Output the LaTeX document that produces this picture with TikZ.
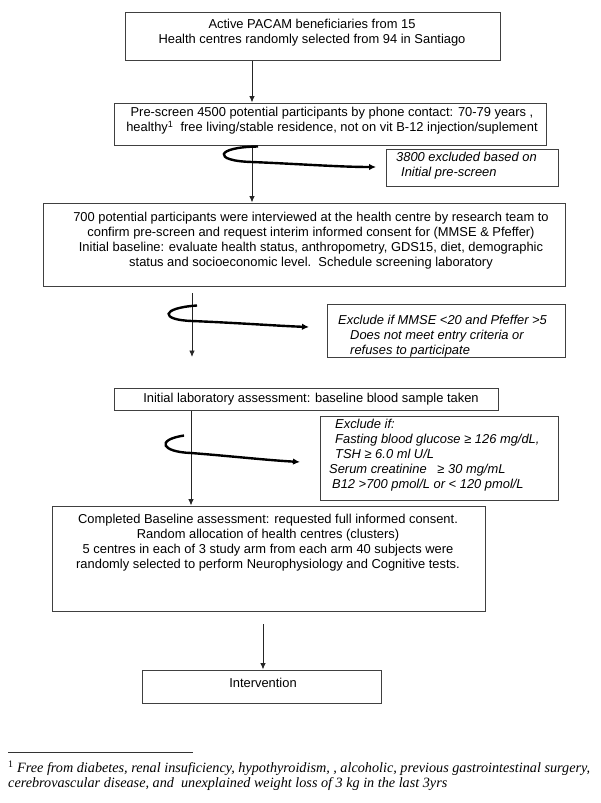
\documentclass[tikz,border=0pt]{standalone}
\usepackage{fontspec}
\setmainfont{Liberation Sans}
\newfontfamily\fnserif{Liberation Serif}
\usetikzlibrary{arrows.meta}
\begin{document}
\begin{tikzpicture}[x=1pt,y=-1pt,
  boxstyle/.style={draw=black!75,line width=1pt,inner sep=0pt,minimum width=#1},
  txt/.style={inner sep=0pt,align=center,anchor=base,font=\fontsize{12.9}{15}\selectfont},
  ltxt/.style={inner sep=0pt,align=left,anchor=base west,font=\fontsize{12.9}{15}\selectfont\itshape},
  thinarr/.style={draw=black!85,line width=0.9pt,-{Latex[length=6.5pt,width=5.5pt]}},
  looparr/.style={draw=black,line width=2.4pt,-{Latex[length=7pt,width=6.5pt]}}]
\useasboundingbox[fill=white] (0,0) rectangle (600,803);

% boxes
\node[boxstyle=375pt,minimum height=48pt] (b1) at (312.5,36) {};
\node[boxstyle=432pt,minimum height=42pt] (b2) at (330,124) {};
\node[boxstyle=172pt,minimum height=37pt] (e1) at (472,167.5) {};
\node[boxstyle=522pt,minimum height=83pt] (b3) at (304,244.5) {};
\node[boxstyle=238pt,minimum height=53pt] (e2) at (446,330.5) {};
\node[boxstyle=384pt,minimum height=22pt] (b4) at (306,399) {};
\node[boxstyle=238pt,minimum height=84pt] (e3) at (439,458) {};
\node[boxstyle=433pt,minimum height=105pt] (b5) at (268.5,558.5) {};
\node[boxstyle=239pt,minimum height=33pt] (b6) at (261.5,686.5) {};

% texts (anchor = baseline of last line)
\node[txt] (t1) at (312,43.5) {Active PACAM beneficiaries from 15\\Health centres randomly selected from 94 in Santiago};
\node[txt] (t2) at (332,131.5) {Pre-screen 4500 potential participants by phone contact: 70-79 years ,\\healthy\textsuperscript{1}\ \ free living/stable residence, not on vit B-12 injection/suplement};
\node[ltxt] (t3) at (396,176.5) {3800 excluded based on\\\hspace*{5pt}Initial pre-screen};
\node[txt] (t4) at (311,266.5) {700 potential participants were interviewed at the health centre by research team to\\confirm pre-screen and request interim informed consent for (MMSE \& Pfeffer)\\Initial baseline: evaluate health status, anthropometry, GDS15, diet, demographic\\status and socioeconomic level.\ \ Schedule screening laboratory};
\node[ltxt] (t5) at (338,354.5) {Exclude if MMSE <20 and Pfeffer >5\\\hspace*{12pt}Does not meet entry criteria or\\\hspace*{12pt}refuses to participate};
\node[txt] (t6) at (311,402.5) {Initial laboratory assessment: baseline blood sample taken};
\node[ltxt] (t7) at (335,488.5) {Exclude if:\\Fasting blood glucose ≥ 126 mg/dL,\\TSH ≥ 6.0 ml U/L\\\hspace*{-6pt}Serum creatinine\ \ \ ≥ 30 mg/mL\\\hspace*{-3pt}B12 >700 pmol/L or < 120 pmol/L};
\node[txt] (t8) at (268,568.5) {Completed Baseline assessment: requested full informed consent.\\Random allocation of health centres (clusters)\\5 centres in each of 3 study arm from each arm 40 subjects were\\randomly selected to perform Neurophysiology and Cognitive tests.};
\node[txt] (t9) at (263,687.5) {Intervention};

% helper coordinates
\coordinate (x1) at (252,0);
\coordinate (x4) at (191,0);
\coordinate (v2s) at (192,293);
\coordinate (v2e) at (192,357);
\coordinate (v5s) at (263,624);
\coordinate (x5) at (263,0);

% main connectors
\draw[thinarr] (b1.south -| x1) -- (b2.north -| x1);
\draw[thinarr] (b2.south -| x1) -- (b3.north -| x1);
\draw[thinarr] (v2s) -- (v2e);
\draw[thinarr] (b4.south -| x4) -- (b5.north -| x4);
\draw[thinarr] (v5s) -- (b6.north -| x5);

% loop arrows
\coordinate (l1s) at (258,146.5);
\coordinate (l1e) at (376,167);
\draw[looparr] (l1s) .. controls (215,147) and (212,161) .. (252,162) .. controls (300,164) and (340,167) .. (l1e);
\coordinate (l2s) at (197,305.5);
\coordinate (l2e) at (309,327);
\draw[looparr] (l2s) .. controls (160,308) and (160,320) .. (192,321) .. controls (240,323) and (280,326) .. (l2e);
\coordinate (l3s) at (184,435.5);
\coordinate (l3e) at (300,462);
\draw[looparr] (l3s) .. controls (155,440) and (162,452) .. (191,453) .. controls (230,456) and (265,460) .. (l3e);

% footnote
\coordinate (fr1) at (8,752);
\coordinate (fr2) at (193,752);
\draw[black!80,line width=0.8pt] (fr1) -- (fr2);
\node[inner sep=0pt,align=left,anchor=base west,font=\fnserif\fontsize{14.2}{15}\selectfont] (fn) at (8,787.5)
 {\textsuperscript{1} \itshape Free from diabetes, renal insuficiency, hypothyroidism, , alcoholic, previous gastrointestinal surgery,\\\itshape cerebrovascular disease, and\ \ unexplained weight loss of 3 kg in the last 3yrs};
\end{tikzpicture}
\end{document}
